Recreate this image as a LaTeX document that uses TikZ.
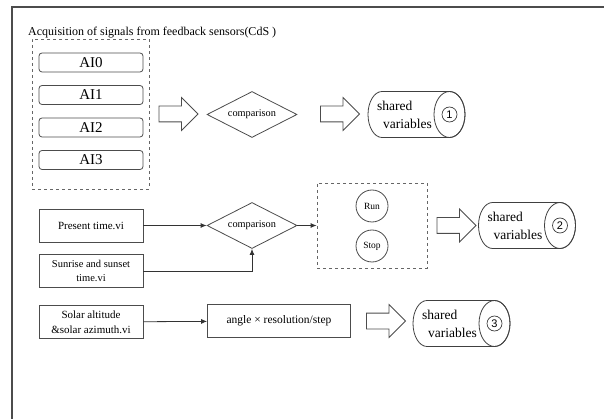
\documentclass[tikz,border=0pt]{standalone}
\usepackage{fontspec}
\setmainfont{Liberation Serif}
\setsansfont{Liberation Sans}
\usetikzlibrary{shapes.geometric,shapes.arrows,arrows.meta}
\tikzset{
  aibox/.style={draw=black!70, line width=0.8, rounded corners=3, minimum width=104, minimum height=19, inner sep=0, font=\fontsize{15}{15}\selectfont},
  vibox/.style={draw=black!70, line width=0.8, minimum width=104, minimum height=33, inner sep=0, align=center, font=\fontsize{11}{15}\selectfont},
  cmpnode/.style={diamond, aspect=2, draw=black!70, line width=0.8, minimum width=90, minimum height=46, inner sep=0, font=\fontsize{10.3}{12}\selectfont},
  bigarrow/.style={single arrow, draw=black!70, line width=0.8, minimum height=39, inner sep=7.5, single arrow head extend=8.5},
  groupbox/.style={draw=black!60, dashed, line width=0.8, inner sep=0},
  svline/.style={draw=black!75, line width=0.8},
  svtext/.style={align=left, font=\fontsize{13.5}{18}\selectfont, inner sep=0},
  svnum/.style={circle, draw=black!75, line width=0.7, minimum size=15, inner sep=0, font=\sffamily\fontsize{11}{11}\selectfont},
  switchnode/.style={circle, draw=black!70, line width=0.8, minimum size=32, inner sep=0, font=\fontsize{9.5}{10}\selectfont},
  link/.style={-{Latex[length=6,width=5]}, draw=black!80, line width=0.8},
}
\begin{document}
\begin{tikzpicture}[x=1pt, y=-1pt]
\useasboundingbox (0,0) rectangle (604,419);
\draw[line width=1.5, black!70] (12,419) -- (12,7) -- (604,7);
% first row: sensors
\node[anchor=west, inner sep=0, font=\fontsize{12}{12}\selectfont] (title) at (28,33) {Acquisition of signals from feedback sensors(CdS )};
\node[groupbox, minimum width=117, minimum height=150] (sensors) at (90.5,114) {};
\foreach \i/\y in {0/62.5,1/95,2/127.5,3/160}
  \node[aibox] (ai\i) at (91,\y) {AI\i};
\node[bigarrow] (arr1) at (174.5,114) {};
\node[cmpnode] (cmp1) at (252,114.5) {comparison};
\node[bigarrow] (arr2) at (336,114) {};
% second row: time
\node[vibox] (present) at (91,225.5) {Present time.vi};
\node[vibox, font=\fontsize{10.5}{14}\selectfont] (sunrise) at (91,271) {Sunrise and sunset\\time.vi};
\node[cmpnode] (cmp2) at (252,225.5) {comparison};
\node[groupbox, minimum width=110, minimum height=85] (switch) at (372,225.5) {};
\node[switchnode] (run) at (372,206) {Run};
\node[switchnode] (stop) at (372,246) {Stop};
\draw[link] (present) -- (cmp2);
\draw[link] (sunrise.east) -| (cmp2.south);
\draw[link] (cmp2) -- (switch);
\node[bigarrow] (arr3) at (452.5,225.5) {};
% third row: angle
\node[vibox] (solar) at (91,322) {Solar altitude\\\&solar azimuth.vi};
\node[vibox, minimum width=143, font=\fontsize{11.5}{14}\selectfont] (angle) at (279,321) {angle × resolution/step};
\draw[link] (solar) -- (angle);
\node[bigarrow] (arr4) at (382,321) {};
% shared variables
\foreach \n/\cx/\cy in {1/416.5/114.5,2/527/225.5,3/461.5/323.5}{
  \draw[svline] (\cx-34.5,\cy-23) -- (\cx+33,\cy-23)
    arc[start angle=-90, end angle=90, x radius=15.5, y radius=23]
    -- (\cx-34.5,\cy+23)
    arc[start angle=90, end angle=270, x radius=14, y radius=23] -- cycle;
  \draw[svline] (\cx+33,\cy) ellipse[x radius=15.5, y radius=23];
  \node[svtext] (svt\n) at (\cx-12,\cy) {shared\\ \hspace{6pt}variables};
  \node[svnum] (num\n) at (\cx+33,\cy) {\n};
}
\end{tikzpicture}
\end{document}
